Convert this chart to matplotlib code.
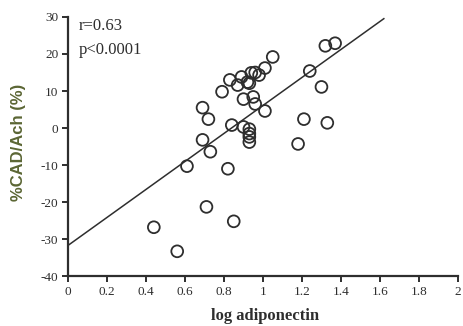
#!/usr/bin/env python3
# -*- coding: utf-8 -*-
'''Scatter of %CAD/Ach against log adiponectin with regression line.'''

import matplotlib
matplotlib.use('Agg')
import matplotlib.pyplot as plt

# Data
log_adipo = [0.44, 0.56, 0.61, 0.71, 0.82, 0.85,
             0.69, 0.72, 0.69, 0.73, 0.79, 0.83, 0.87, 0.89, 0.93,
             0.94, 0.98, 1.01, 1.05, 0.90, 0.95, 0.96, 1.01, 0.84,
             0.90, 0.93, 0.93, 0.93, 0.96, 0.92, 0.93,
             1.32, 1.37, 1.24, 1.30, 1.21, 1.33, 1.18]
cad_ach = [-26.8, -33.3, -10.3, -21.3, -11.0, -25.2,
           5.5, 2.4, -3.2, -6.4, 9.8, 13.0, 11.6, 13.8, 12.1,
           14.9, 14.3, 16.2, 19.2, 7.8, 8.4, 6.5, 4.6, 0.8,
           0.3, -0.3, -2.4, -3.8, 15.0, 12.4, -1.5,
           22.2, 22.9, 15.4, 11.1, 2.4, 1.4, -4.3]

# Regression line as drawn
fit_intercept = -31.7
fit_slope = 37.8
fit_x = [0.0, 1.62]

x_ticks = [0, 0.2, 0.4, 0.6, 0.8, 1, 1.2, 1.4, 1.6, 1.8, 2]
x_ticklabels = ['0', '0.2', '0.4', '0.6', '0.8', '1', '1.2', '1.4', '1.6', '1.8', '2']
y_ticks = [-40, -30, -20, -10, 0, 10, 20, 30]

plt.rcParams['axes.unicode_minus'] = False

fig = plt.figure(figsize=(4.63, 3.26), dpi=100)
ax = fig.add_axes([0.147, 0.153, 0.842, 0.795])

ink = '#2e2e2e'
serif = ['Liberation Serif', 'DejaVu Serif']

ax.scatter(log_adipo, cad_ach, s=72, facecolors='none', edgecolors=ink,
           linewidths=1.3, zorder=3)
ax.plot(fit_x, [fit_intercept + fit_slope * v for v in fit_x],
        color=ink, lw=1.1, zorder=2)

ax.set_xlim(0, 2)
ax.set_ylim(-40, 30)
ax.set_xticks(x_ticks)
ax.set_xticklabels(x_ticklabels)
ax.set_yticks(y_ticks)

for side in ['top', 'right']:
    ax.spines[side].set_visible(False)
for side in ['left', 'bottom']:
    ax.spines[side].set_linewidth(1.6)
    ax.spines[side].set_color(ink)

ax.tick_params(direction='out', length=4, width=1.4, color=ink,
               labelsize=9.5, labelcolor=ink, pad=3)
for lbl in ax.get_xticklabels() + ax.get_yticklabels():
    lbl.set_family(serif)

ax.set_xlabel('log adiponectin', family=serif, fontweight='bold',
              fontsize=12, color=ink, va='center')
ax.xaxis.set_label_coords(0.505, -0.152)
ax.set_ylabel('%CAD/Ach (%)', family=['Liberation Sans', 'DejaVu Sans'],
              fontweight='bold', fontsize=12, color='#5b6634', va='center')
ax.yaxis.set_label_coords(-0.128, 0.517)

ax.text(0.028, 0.995, 'r=0.63', transform=ax.transAxes, family=serif,
        fontsize=12, color=ink, va='top')
ax.text(0.028, 0.905, 'p<0.0001', transform=ax.transAxes, family=serif,
        fontsize=12, color=ink, va='top')

fig.savefig('out.png', dpi=100)
